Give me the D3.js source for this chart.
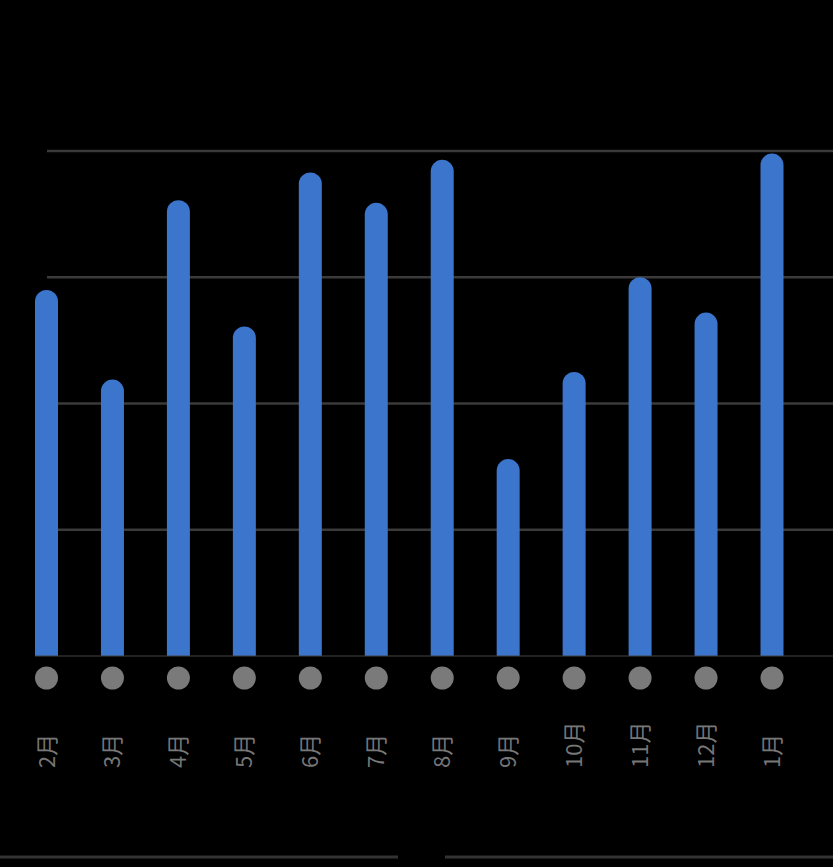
<!DOCTYPE html>
<html>
  <head>
    <meta charset="UTF-8" />
    <script src="https://cdn.jsdelivr.net/npm/d3@7"></script>
    <style>
      body { margin: 0; background: #000; }
    </style>
  </head>
  <body>
    <div class="chart"></div>
    <script>
      let months = ["2月", "3月", "4月", "5月", "6月", "7月", "8月", "9月", "10月", "11月", "12月", "1月"];
      let values = [2.9, 2.19, 3.61, 2.61, 3.83, 3.59, 3.93, 1.56, 2.25, 3.0, 2.72, 3.98];
      let gridTicks = [1, 2, 3, 4];

      let width = 833;
      let height = 867;

      let svg = d3
        .select(".chart")
        .append("svg")
        .attr("width", width)
        .attr("height", height)
        .style("background", "#000");

      let x = d3.scalePoint().domain(months).range([46.5, 772]);
      let y = d3.scaleLinear().domain([0, 4]).range([656, 151]);
      let barW = 23;

      // gridlines
      svg
        .selectAll(".grid")
        .data(gridTicks)
        .enter()
        .append("line")
        .attr("x1", 47)
        .attr("x2", width)
        .attr("y1", (d) => y(d))
        .attr("y2", (d) => y(d))
        .attr("stroke", "#3a3a3a")
        .attr("stroke-width", 2.5);

      // bars with rounded tops
      svg
        .selectAll(".bar")
        .data(values)
        .enter()
        .append("path")
        .attr("fill", "#3b75cc")
        .attr("d", (d, i) => {
          let cx = x(months[i]);
          let r = barW / 2;
          let top = y(d);
          let base = y(0);
          return `M${cx - r},${base} L${cx - r},${top + r} A${r},${r} 0 0 1 ${cx + r},${top + r} L${cx + r},${base} Z`;
        });

      // baseline
      svg
        .append("line")
        .attr("x1", 35)
        .attr("x2", width)
        .attr("y1", y(0))
        .attr("y2", y(0))
        .attr("stroke", "#444")
        .attr("stroke-width", 1);

      // dots
      svg
        .selectAll(".dot")
        .data(months)
        .enter()
        .append("circle")
        .attr("cx", (d) => x(d))
        .attr("cy", 678)
        .attr("r", 11.5)
        .attr("fill", "#7a7a7a");

      // labels
      svg
        .selectAll(".label")
        .data(months)
        .enter()
        .append("text")
        .attr("transform", (d) => `translate(${x(d) + 8},768) rotate(-90)`)
        .attr("fill", "#777")
        .attr("font-family", "Noto Sans CJK SC, sans-serif")
        .attr("font-size", 22)
        .text((d) => d);

      // bottom lines
      svg.append("line").attr("x1", 0).attr("x2", 398).attr("y1", 857).attr("y2", 857)
        .attr("stroke", "#333").attr("stroke-width", 3);
      svg.append("line").attr("x1", 445).attr("x2", width).attr("y1", 857).attr("y2", 857)
        .attr("stroke", "#333").attr("stroke-width", 3);
    </script>
  </body>
</html>
